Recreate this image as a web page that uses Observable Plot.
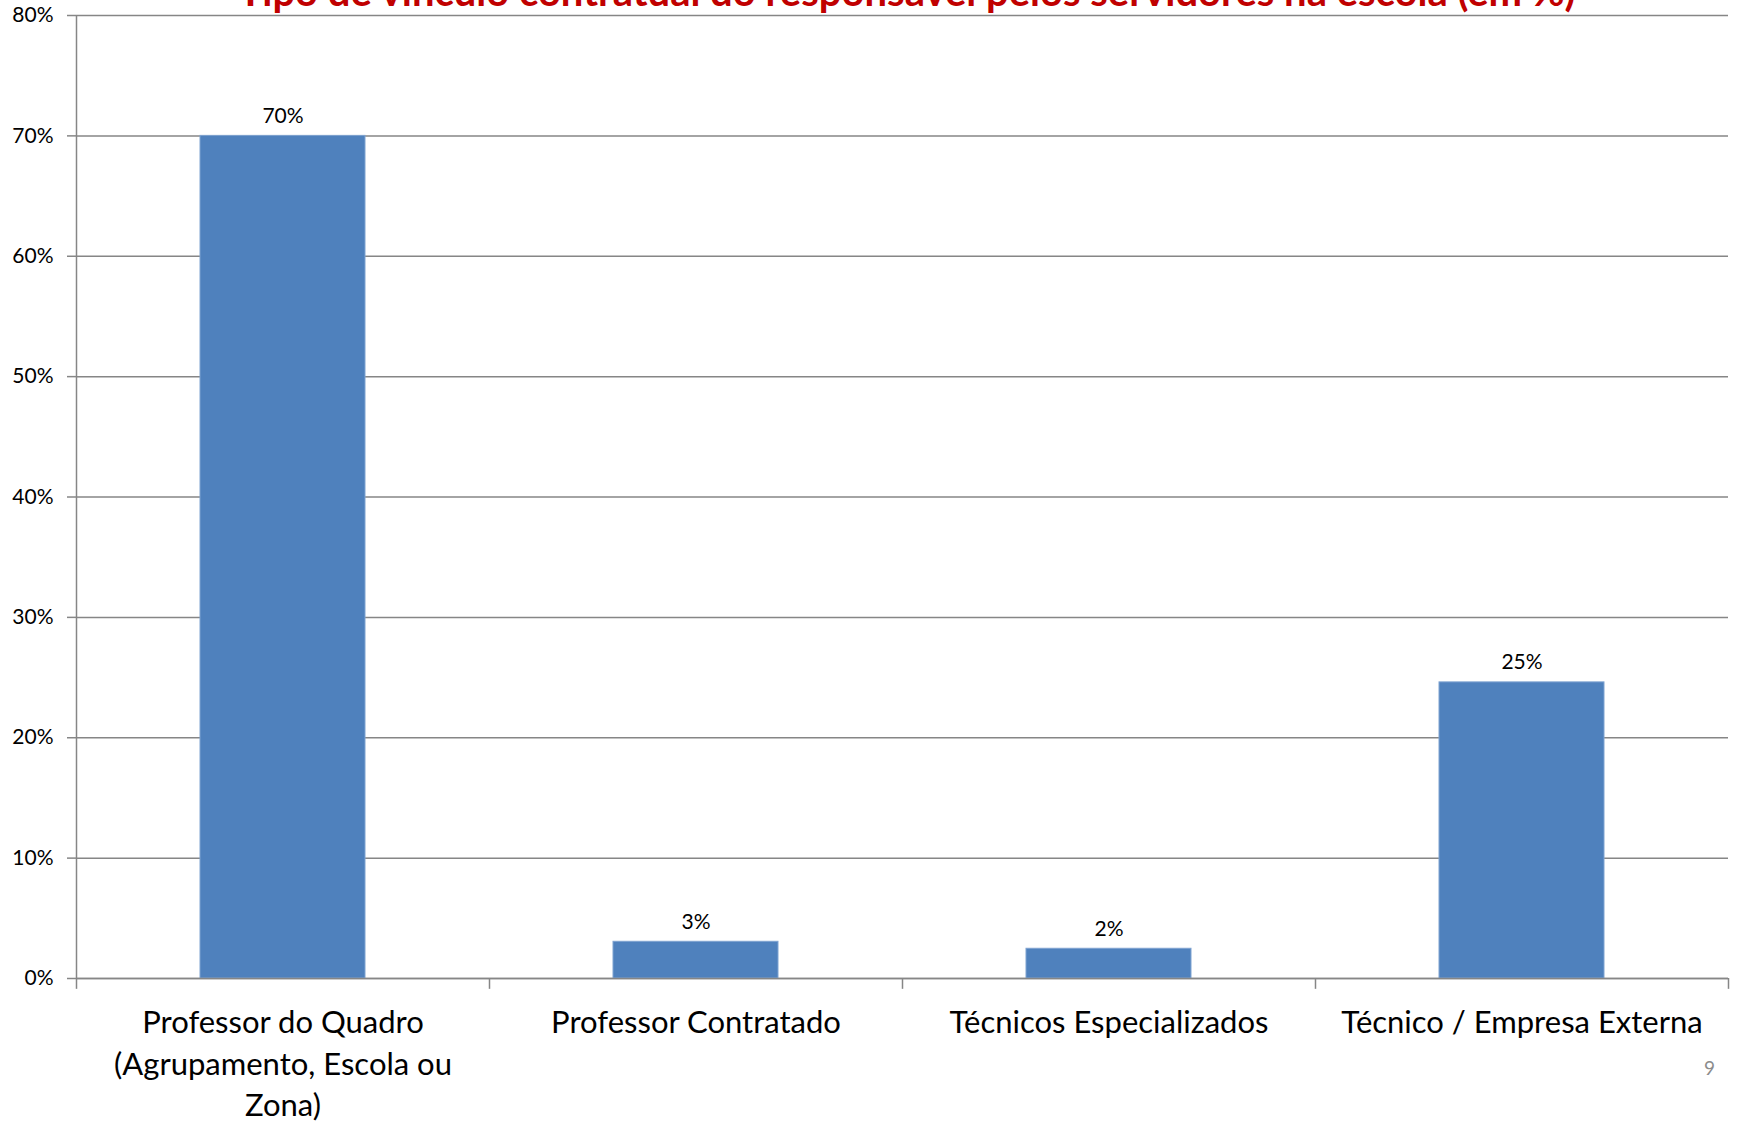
<!DOCTYPE html>
<html>
<head>
<meta charset="utf-8">
<script src="https://cdn.jsdelivr.net/npm/d3@7"></script>
<script src="https://cdn.jsdelivr.net/npm/@observablehq/plot@0.6"></script>
<style>
  html, body { margin: 0; padding: 0; background: #fff; overflow: hidden; }
  #wrap { position: relative; width: 1737px; height: 1121px; overflow: hidden; font-family: Lato, "Open Sans", sans-serif; }
  #title { position: absolute; left: 0; width: 1814px; text-align: center; top: -29px; line-height: 40px; font-size: 40px; font-weight: bold; color: #c00000; white-space: nowrap; }
  #page { position: absolute; left: 1704px; top: 1056px; font-size: 19px; color: #8c8c8c; }
  #chart { position: absolute; left: 0; top: 0; }
</style>
</head>
<body>
<div id="wrap">
  <div id="chart"></div>
  <div id="title">Tipo de vínculo contratual do responsável pelos servidores na escola (em %)</div>
  <div id="page">9</div>
</div>
<script>
const categories = [
  "Professor do Quadro (Agrupamento, Escola ou Zona)",
  "Professor Contratado",
  "Técnicos Especializados",
  "Técnico / Empresa Externa"
];
const tickLabels = [
  "Professor do Quadro\n(Agrupamento, Escola ou\nZona)",
  "Professor Contratado",
  "Técnicos Especializados",
  "Técnico / Empresa Externa"
];
const values = [70.0, 3.05, 2.47, 24.6];
const valueLabels = ["70%", "3%", "2%", "25%"];
const yTicks = [0, 10, 20, 30, 40, 50, 60, 70, 80];

const data = categories.map((c, i) => ({cat: c, value: values[i], label: valueLabels[i]}));

const W = 1737, H = 1121;
const mL = 76, mR = 9, mT = 15, mB = 143;
const step = (W - mL - mR) / categories.length;
const gray = "#868686";

const chart = Plot.plot({
  width: W,
  height: H,
  marginLeft: mL,
  marginRight: mR,
  marginTop: mT,
  marginBottom: mB,
  style: {fontFamily: "Lato, 'Open Sans', sans-serif", background: "transparent", overflow: "visible"},
  x: {domain: categories, paddingInner: 0.6, paddingOuter: 0.3, align: 0.5},
  y: {domain: [0, 80]},
  marks: [
    Plot.ruleY(yTicks, {y: d => d, stroke: gray, strokeWidth: 1.5}),
    Plot.axisY({ticks: yTicks, tickFormat: d => d + "%", tickSize: 9, tickPadding: 14, stroke: gray, strokeWidth: 1.5, fontSize: 21, fill: "#000", label: null}),
    Plot.barY(data, {x: "cat", y: "value", fill: "#4f81bd", stroke: "#7fa3d1", strokeWidth: 1}),
    Plot.ruleX(categories, {x: d => d, y1: 0, y2: -0.9, dx: -step / 2, stroke: gray, strokeWidth: 1.5}),
    Plot.ruleX([categories[categories.length - 1]], {x: d => d, y1: 0, y2: -0.9, dx: step / 2, stroke: gray, strokeWidth: 1.5}),
    Plot.ruleX([categories[0]], {x: d => d, y1: 0, y2: 80, dx: -step / 2, stroke: gray, strokeWidth: 1.5}),
    Plot.ruleY([0], {stroke: gray, strokeWidth: 1.5}),
    Plot.text(data, {x: "cat", y: "value", text: "label", dy: -20, fontSize: 21, fill: "#000"}),
    Plot.axisX({tickSize: 0, tickPadding: 25, fontSize: 31, lineHeight: 1.34, fill: "#000", label: null,
      tickFormat: d => tickLabels[categories.indexOf(d)]})
  ]
});
document.getElementById("chart").appendChild(chart);
</script>
</body>
</html>
